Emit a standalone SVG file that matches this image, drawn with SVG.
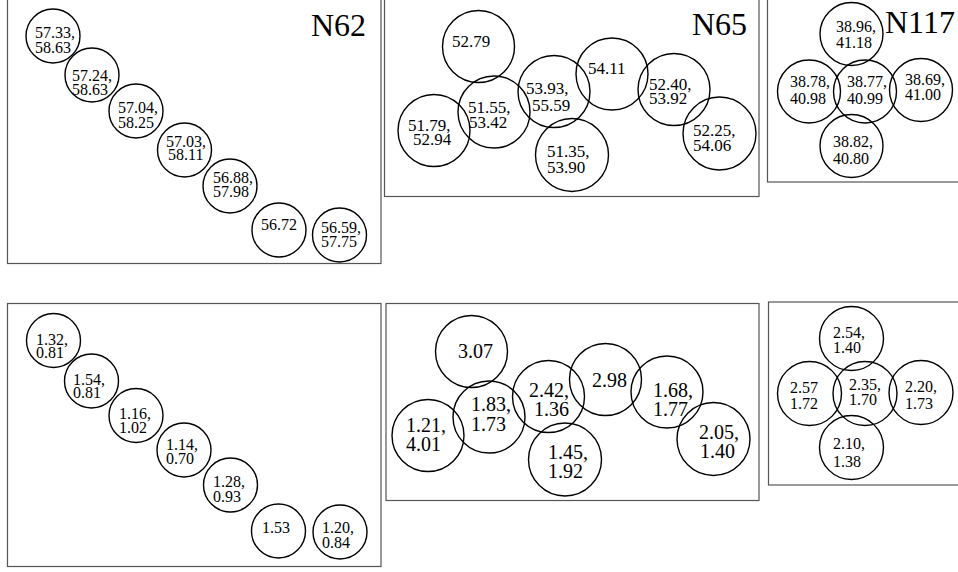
<svg xmlns="http://www.w3.org/2000/svg" width="958" height="572" viewBox="0 0 958 572">
<style>
.panel{fill:#fff;stroke:#555;stroke-width:1.2}
.n circle{fill:none;stroke:#000;stroke-width:1.4}
text{font-family:"Liberation Serif","Times New Roman",serif;fill:#000}
.s16{font-size:16px}
.s17{font-size:17px}
.s20{font-size:20px}
.title{font-size:32px}
</style>
<rect width="958" height="572" fill="#fff"/>
<g id="panels">
<rect class="panel" x="7.5" y="-5" width="373.5" height="268.5"/>
<rect class="panel" x="384.5" y="-5" width="374.5" height="201.5"/>
<rect class="panel" x="767.5" y="-5" width="200" height="187"/>
<rect class="panel" x="7.5" y="303.5" width="373.5" height="263"/>
<rect class="panel" x="386" y="303.5" width="373" height="197"/>
<rect class="panel" x="768.5" y="302" width="200" height="183"/>
</g>
<g id="titles">
<text class="title" x="311" y="36">N62</text>
<text class="title" x="692" y="35">N65</text>
<text class="title" x="885" y="33">N117</text>
</g>
<!-- Panel N62 -->
<g id="p1n1" class="n s16"><circle cx="53" cy="36" r="27"/><text x="35" y="38">57.33,</text><text x="35" y="53">58.63</text></g>
<g id="p1n2" class="n s16"><circle cx="92" cy="75" r="27"/><text x="72" y="81">57.24,</text><text x="72" y="95">58.63</text></g>
<g id="p1n3" class="n s16"><circle cx="136" cy="111" r="27"/><text x="118" y="113">57.04,</text><text x="118" y="128">58.25</text></g>
<g id="p1n4" class="n s16"><circle cx="184.5" cy="150" r="27"/><text x="166" y="147">57.03,</text><text x="168" y="160">58.11</text></g>
<g id="p1n5" class="n s16"><circle cx="230" cy="186" r="27"/><text x="213" y="183">56.88,</text><text x="213" y="197">57.98</text></g>
<g id="p1n6" class="n s16"><circle cx="279" cy="230" r="27"/><text x="261" y="230">56.72</text></g>
<g id="p1n7" class="n s16"><circle cx="339.5" cy="235" r="27"/><text x="321" y="233">56.59,</text><text x="321" y="247">57.75</text></g>
<!-- Panel N65 -->
<g id="p2n1" class="n s17"><circle cx="478.5" cy="46.5" r="36"/><text x="452" y="47">52.79</text></g>
<g id="p2n2" class="n s17"><circle cx="494" cy="112" r="36"/><text x="468" y="113">51.55,</text><text x="469" y="128">53.42</text></g>
<g id="p2n3" class="n s17"><circle cx="434" cy="130.5" r="36"/><text x="408" y="131">51.79,</text><text x="413" y="145">52.94</text></g>
<g id="p2n4" class="n s17"><circle cx="554" cy="91.5" r="36"/><text x="526" y="94">53.93,</text><text x="532" y="111">55.59</text></g>
<g id="p2n5" class="n s17"><circle cx="612" cy="74" r="36"/><text x="588" y="74">54.11</text></g>
<g id="p2n6" class="n s17"><circle cx="674" cy="89.5" r="36"/><text x="649" y="90">52.40,</text><text x="649" y="104">53.92</text></g>
<g id="p2n7" class="n s17"><circle cx="719.5" cy="133.5" r="36.5"/><text x="693" y="136">52.25,</text><text x="693" y="151">54.06</text></g>
<g id="p2n8" class="n s17"><circle cx="572" cy="155" r="36.5"/><text x="547" y="157">51.35,</text><text x="547" y="173">53.90</text></g>
<!-- Panel N117 -->
<g id="p3n1" class="n s16"><circle cx="851.5" cy="34" r="31.5"/><text x="836" y="32">38.96,</text><text x="836" y="48">41.18</text></g>
<g id="p3n2" class="n s16"><circle cx="809" cy="91.5" r="31.5"/><text x="790" y="87">38.78,</text><text x="790" y="104">40.98</text></g>
<g id="p3n3" class="n s16"><circle cx="865" cy="91.5" r="31.5"/><text x="847" y="87">38.77,</text><text x="847" y="104">40.99</text></g>
<g id="p3n4" class="n s16"><circle cx="921" cy="90" r="31.5"/><text x="905" y="85">38.69,</text><text x="905" y="100">41.00</text></g>
<g id="p3n5" class="n s16"><circle cx="851.5" cy="146" r="31.5"/><text x="833" y="147">38.82,</text><text x="833" y="164">40.80</text></g>
<!-- Panel bottom-left -->
<g id="p4n1" class="n s16"><circle cx="53.5" cy="340.5" r="27"/><text x="36" y="345">1.32,</text><text x="36" y="358">0.81</text></g>
<g id="p4n2" class="n s16"><circle cx="91.5" cy="381" r="27"/><text x="73" y="385">1.54,</text><text x="73" y="398">0.81</text></g>
<g id="p4n3" class="n s16"><circle cx="136" cy="415.5" r="27"/><text x="119" y="419">1.16,</text><text x="119" y="433">1.02</text></g>
<g id="p4n4" class="n s16"><circle cx="184" cy="450" r="27"/><text x="166" y="450">1.14,</text><text x="166" y="464">0.70</text></g>
<g id="p4n5" class="n s16"><circle cx="230.5" cy="485" r="27"/><text x="213" y="487">1.28,</text><text x="213" y="502">0.93</text></g>
<g id="p4n6" class="n s16"><circle cx="278.5" cy="531" r="27"/><text x="262" y="533">1.53</text></g>
<g id="p4n7" class="n s16"><circle cx="340" cy="532" r="27"/><text x="322" y="533">1.20,</text><text x="322" y="548">0.84</text></g>
<!-- Panel bottom-middle -->
<g id="p5n1" class="n s20"><circle cx="471.5" cy="351.5" r="36"/><text x="458" y="358">3.07</text></g>
<g id="p5n2" class="n s20"><circle cx="489" cy="417" r="36"/><text x="471" y="411">1.83,</text><text x="471" y="431">1.73</text></g>
<g id="p5n3" class="n s20"><circle cx="428" cy="435.5" r="36"/><text x="406" y="432">1.21,</text><text x="406" y="451">4.01</text></g>
<g id="p5n4" class="n s20"><circle cx="548.5" cy="396.5" r="36"/><text x="529" y="397">2.42,</text><text x="534" y="416">1.36</text></g>
<g id="p5n5" class="n s20"><circle cx="565" cy="459.5" r="36.5"/><text x="548" y="459">1.45,</text><text x="548" y="478">1.92</text></g>
<g id="p5n6" class="n s20"><circle cx="605.5" cy="379.5" r="36"/><text x="592" y="387">2.98</text></g>
<g id="p5n7" class="n s20"><circle cx="667" cy="392" r="36"/><text x="653" y="397">1.68,</text><text x="653" y="416">1.77</text></g>
<g id="p5n8" class="n s20"><circle cx="713.5" cy="439" r="36.5"/><text x="699" y="439">2.05,</text><text x="700" y="458">1.40</text></g>
<!-- Panel bottom-right -->
<g id="p6n1" class="n s16"><circle cx="851.5" cy="338.5" r="32"/><text x="833" y="338">2.54,</text><text x="833" y="353">1.40</text></g>
<g id="p6n2" class="n s16"><circle cx="809.5" cy="393.5" r="32"/><text x="790" y="393">2.57</text><text x="790" y="409">1.72</text></g>
<g id="p6n3" class="n s16"><circle cx="865" cy="393.5" r="32"/><text x="849" y="390">2.35,</text><text x="849" y="405">1.70</text></g>
<g id="p6n4" class="n s16"><circle cx="921" cy="392.5" r="32"/><text x="905" y="392">2.20,</text><text x="905" y="409">1.73</text></g>
<g id="p6n5" class="n s16"><circle cx="851.5" cy="447.5" r="32"/><text x="833" y="449">2.10,</text><text x="833" y="467">1.38</text></g>
</svg>
